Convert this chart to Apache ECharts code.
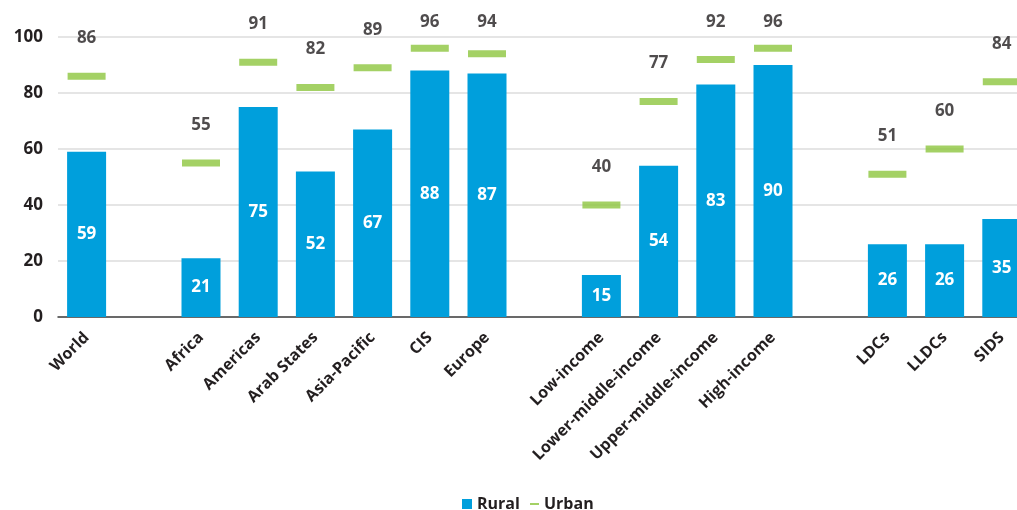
<!DOCTYPE html>
<html>
<head>
<meta charset="utf-8">
<script src="https://cdn.jsdelivr.net/npm/echarts@6/dist/echarts.min.js"></script>
<style>html,body{margin:0;padding:0;background:#fff;}#c{width:1017px;height:510px;}</style>
</head>
<body>
<div id="c"></div>
<script>
const categories = ['World', '', 'Africa', 'Americas', 'Arab States', 'Asia-Pacific', 'CIS', 'Europe', '', 'Low-income', 'Lower-middle-income', 'Upper-middle-income', 'High-income', '', 'LDCs', 'LLDCs', 'SIDS'];
const rural = [59, '-', 21, 75, 52, 67, 88, 87, '-', 15, 54, 83, 90, '-', 26, 26, 35];
const urban = [86, '-', 55, 91, 82, 89, 96, 94, '-', 40, 77, 92, 96, '-', 51, 60, 84];
const yTicks = [0, 20, 40, 60, 80, 100];

const FONT = '"Open Sans", sans-serif';
const TXT = '#231f20';
const W = 'bold';
const LABEL_TOP_LIMIT = 22; // urban labels never rise above this line (centre y)
const chart = echarts.init(document.getElementById('c'));
chart.setOption({
  animation: false,
  textStyle: { fontFamily: FONT },
  grid: { left: 58, right: -13.4, top: 37, bottom: 193, containLabel: false, outerBoundsMode: 'none' },
  legend: [
    { data: [{ name: 'Rural', icon: 'rect' }], left: 462, top: 496, padding: 0, itemWidth: 10, itemHeight: 10, itemGap: 5,
      textStyle: { fontFamily: FONT, fontSize: 16, fontWeight: W, color: TXT } },
    { data: [{ name: 'Urban', icon: 'rect' }], left: 530, top: 496, padding: 0, itemWidth: 9, itemHeight: 2, itemGap: 5,
      textStyle: { fontFamily: FONT, fontSize: 16, fontWeight: W, color: TXT } }
  ],
  xAxis: {
    type: 'category', data: categories,
    axisTick: { show: false },
    axisLine: { lineStyle: { color: '#404040', width: 1.5 } },
    axisLabel: { interval: 0, rotate: 45, margin: 18, fontSize: 16, fontWeight: W, color: TXT, fontFamily: FONT }
  },
  yAxis: {
    type: 'value', min: yTicks[0], max: yTicks[yTicks.length - 1], interval: 20,
    axisLine: { show: false }, axisTick: { show: false },
    splitLine: { lineStyle: { color: '#dcdcdc', width: 1.5 } },
    axisLabel: { fontSize: 17, fontWeight: W, color: TXT, margin: 15, fontFamily: FONT }
  },
  series: [
    {
      name: 'Rural', type: 'bar', data: rural, barWidth: 39,
      itemStyle: { color: '#009fdc' },
      label: { show: true, position: 'inside', color: '#fff', fontSize: 17, fontWeight: W, fontFamily: FONT }
    },
    {
      name: 'Urban', type: 'scatter', data: urban, symbol: 'rect', symbolSize: [38, 7],
      itemStyle: { color: '#8dc63f' },
      label: { show: true, position: 'top', distance: 26, color: TXT, fontSize: 17, fontWeight: W, fontFamily: FONT },
      labelLayout: function (p) {
        const r = p.labelRect;
        const cy = Math.max(r.y + r.height / 2, LABEL_TOP_LIMIT);
        return { x: r.x + r.width / 2, y: cy, align: 'center', verticalAlign: 'middle' };
      }
    }
  ]
});
</script>
</body>
</html>
